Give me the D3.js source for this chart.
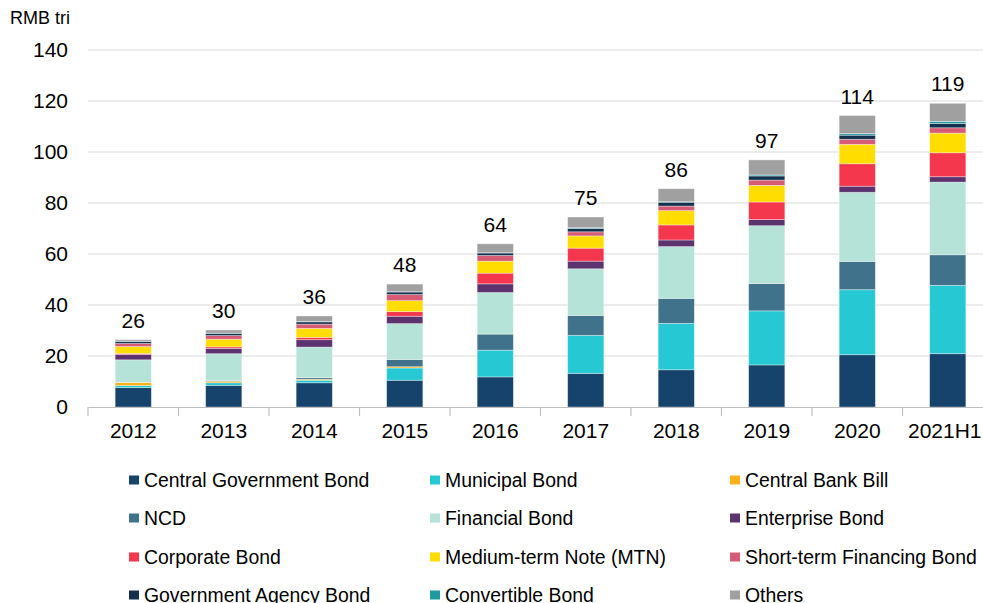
<!DOCTYPE html>
<html>
<head>
<meta charset="utf-8">
<script src="https://cdn.jsdelivr.net/npm/d3@7"></script>
<style>
  body { margin: 0; background: #fff; }
  svg { display: block; font-family: "Liberation Sans", Arial, sans-serif; }
</style>
</head>
<body>
<script>
// categories and series (RMB trillion)
const years = ["2012", "2013", "2014", "2015", "2016", "2017", "2018", "2019", "2020", "2021H1"];
const centralGov  = [7.6, 8.5, 9.5, 10.5, 11.8, 13.2, 14.6, 16.5, 20.5, 20.9];
const municipal   = [0.8, 1.0, 1.0, 4.8, 10.5, 14.9, 18.2, 21.2, 25.5, 26.8];
const centralBill = [1.2, 0.6, 0.4, 0.5, 0.0, 0.0, 0.0, 0.0, 0.0, 0.0];
const ncd         = [0.0, 0.3, 0.6, 2.8, 6.3, 7.8, 9.8, 10.7, 11.1, 12.0];
const financial   = [8.9, 10.5, 12.0, 14.1, 16.3, 18.3, 20.3, 22.7, 27.1, 28.5];
const enterprise  = [2.1, 2.1, 2.9, 2.9, 3.4, 3.0, 2.6, 2.4, 2.4, 2.1];
const corporate   = [0.4, 0.6, 0.9, 1.8, 4.2, 5.1, 5.9, 6.9, 8.8, 9.4];
const mtn         = [2.7, 3.0, 3.5, 4.3, 4.7, 4.8, 5.6, 6.5, 7.6, 7.7];
const shortTerm   = [1.2, 1.4, 1.7, 2.4, 2.2, 1.6, 1.8, 2.1, 2.0, 2.1];
const agency      = [0.8, 0.9, 0.9, 1.0, 1.0, 1.3, 1.5, 1.6, 1.6, 1.7];
const convertible = [0.1, 0.1, 0.1, 0.1, 0.1, 0.3, 0.2, 0.4, 0.6, 0.8];
const others      = [0.6, 1.2, 2.2, 3.0, 3.5, 4.2, 5.1, 5.9, 7.1, 7.1];
const totals      = [26, 30, 36, 48, 64, 75, 86, 97, 114, 119];
const yTicks      = [0, 20, 40, 60, 80, 100, 120, 140];

const seriesNames = ["Central Government Bond", "Municipal Bond", "Central Bank Bill",
  "NCD", "Financial Bond", "Enterprise Bond",
  "Corporate Bond", "Medium-term Note (MTN)", "Short-term Financing Bond",
  "Government Agency Bond", "Convertible Bond", "Others"];
const seriesValues = [centralGov, municipal, centralBill, ncd, financial, enterprise,
  corporate, mtn, shortTerm, agency, convertible, others];
const colors = ["#15436b", "#26c9d3", "#fbb21a", "#41728b", "#b5e3d8", "#5c336e",
  "#f4374d", "#ffdd00", "#d55c74", "#13304d", "#1e9aa0", "#a0a0a0"];

// build table for d3.stack
const table = years.map(function (y, i) {
  const row = { year: y };
  seriesNames.forEach(function (n, j) { row[n] = seriesValues[j][i]; });
  return row;
});

const W = 983, H = 603;
const svg = d3.select("body").append("svg").attr("width", W).attr("height", H);

const x = d3.scaleBand().domain(years).range([88, 993]).paddingInner(0.6).paddingOuter(0.3);
const y = d3.scaleLinear().domain([0, 140]).range([407, 50]);

// gridlines
svg.append("g")
  .selectAll("line")
  .data(yTicks.slice(1))
  .enter()
  .append("line")
  .attr("x1", 88).attr("x2", 993)
  .attr("y1", d => y(d)).attr("y2", d => y(d))
  .attr("stroke", "#d9d9d9").attr("stroke-width", 1);

// y axis labels
const yAxis = svg.append("g")
  .attr("transform", "translate(68,0)")
  .call(d3.axisLeft(y).tickValues(yTicks).tickSize(0).tickPadding(0));
yAxis.select(".domain").remove();
yAxis.selectAll("text").attr("font-size", 21).attr("fill", "#000")
  .attr("font-family", "Liberation Sans, Arial, sans-serif");

svg.append("text")
  .attr("x", 10).attr("y", 24)
  .attr("font-size", 18)
  .text("RMB tri");

// stacked bars
const stack = d3.stack().keys(seriesNames);
const layers = stack(table);

svg.append("g")
  .selectAll("g")
  .data(layers)
  .enter()
  .append("g")
  .attr("fill", (d, i) => colors[i])
  .selectAll("rect")
  .data(d => d)
  .enter()
  .append("rect")
  .attr("x", d => x(d.data.year))
  .attr("width", x.bandwidth())
  .attr("y", d => y(d[1]))
  .attr("height", d => Math.max(0, y(d[0]) - y(d[1])))
  .attr("stroke", "#ffffff").attr("stroke-opacity", 0.45).attr("stroke-width", 0.8);

// total labels
svg.append("g")
  .selectAll("text")
  .data(table)
  .enter()
  .append("text")
  .attr("x", d => x(d.year) + x.bandwidth() / 2)
  .attr("y", (d, i) => y(d3.sum(seriesValues, s => s[i])) - 12)
  .attr("text-anchor", "middle")
  .attr("font-size", 21)
  .text((d, i) => totals[i]);

// x axis
const xAxis = svg.append("g")
  .attr("transform", "translate(0,407)")
  .call(d3.axisBottom(x).tickSize(0).tickPadding(16));
xAxis.select(".domain").attr("stroke", "#bfbfbf").attr("stroke-width", 1.2);
xAxis.selectAll("text").attr("font-size", 21).attr("fill", "#000")
  .attr("font-family", "Liberation Sans, Arial, sans-serif");
// last label is nudged left so it fits inside the picture
xAxis.selectAll("text").filter(d => d === "2021H1").attr("dx", -3);

// category separators
const step = x.step();
svg.append("g")
  .selectAll("line")
  .data(d3.range(years.length + 1))
  .enter()
  .append("line")
  .attr("x1", i => 88 + i * step).attr("x2", i => 88 + i * step)
  .attr("y1", 407).attr("y2", 416)
  .attr("stroke", "#bfbfbf").attr("stroke-width", 1.2);

// legend
const legend = svg.append("g");
const colX = [129, 430, 730];
const rowY = [480, 518, 557, 595];
seriesNames.forEach(function (n, i) {
  const g = legend.append("g")
    .attr("transform", "translate(" + colX[i % 3] + "," + rowY[Math.floor(i / 3)] + ")");
  g.append("rect").attr("x", 0).attr("y", -4.5).attr("width", 10).attr("height", 9)
    .attr("fill", colors[i]);
  g.append("text").attr("x", 15).attr("y", 6.5)
    .attr("font-size", 19.4)
    .text(n);
});
</script>
</body>
</html>
